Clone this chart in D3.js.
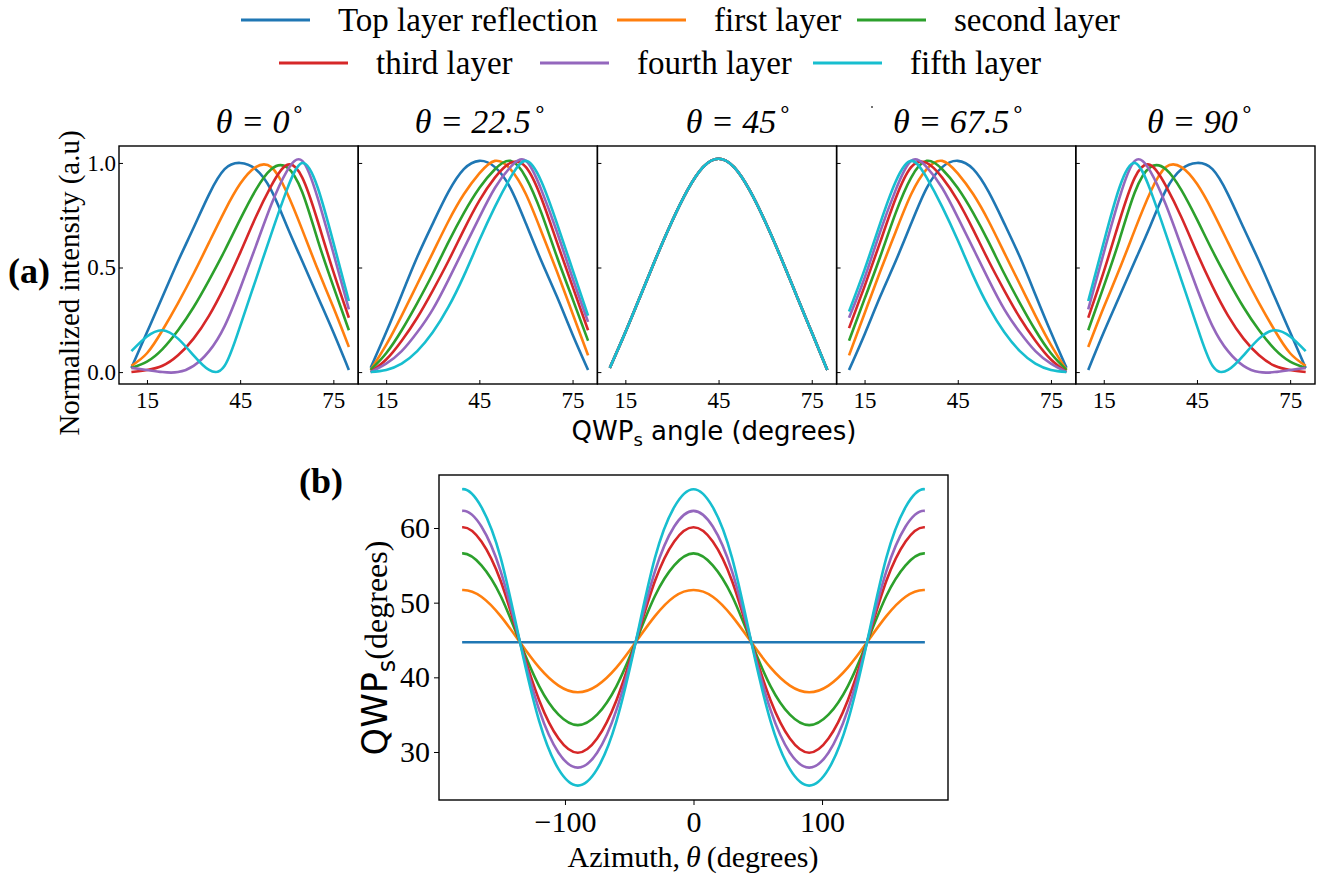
<!DOCTYPE html>
<html lang="en">
<head>
    <meta charset="UTF-8">
    <title>QWP layer intensity</title>
    <script src="https://d3js.org/d3.v7.min.js"></script>
    <style>
        body { margin: 0; background: #fff; }
        svg { display: block; }
    </style>
</head>
<body>
<svg id="fig" width="1325" height="876"></svg>
<script>
    // ---- data ----
    const layerNames = ["Top layer reflection", "first layer", "second layer", "third layer", "fourth layer", "fifth layer"];
    const layerColors = ["#1f77b4", "#ff7f0e", "#2ca02c", "#d62728", "#9467bd", "#17becf"];

    const thetaLabels = ["0", "22.5", "45", "67.5", "90"];
    const qwpAngle = [10, 15, 20, 25, 30, 35, 40, 45, 50, 55, 60, 65, 70, 75, 80];
    const qwpTicks = [15, 45, 75];
    const intensityTicks = [0.0, 0.5, 1.0];

    // normalized intensity, one row per layer (top, first ... fifth)
    const intensity0 = [
        [0.02, 0.19, 0.36, 0.53, 0.69, 0.85, 0.97, 1.00, 0.97, 0.87, 0.70, 0.53, 0.36, 0.19, 0.01],
        [0.03, 0.09, 0.20, 0.33, 0.47, 0.62, 0.77, 0.90, 0.98, 0.98, 0.86, 0.68, 0.49, 0.31, 0.12],
        [0.02, 0.05, 0.11, 0.20, 0.31, 0.44, 0.58, 0.73, 0.87, 0.97, 0.98, 0.86, 0.63, 0.41, 0.20],
        [0.00, 0.01, 0.03, 0.08, 0.16, 0.27, 0.41, 0.57, 0.74, 0.89, 0.99, 0.93, 0.72, 0.48, 0.26],
        [0.02, 0.01, 0.00, 0.00, 0.03, 0.10, 0.22, 0.40, 0.60, 0.80, 0.96, 1.01, 0.83, 0.57, 0.30],
        [0.10, 0.17, 0.20, 0.16, 0.08, 0.01, 0.03, 0.22, 0.44, 0.66, 0.87, 1.00, 0.88, 0.62, 0.34]
    ];
    const intensity22 = [
        [0.02, 0.19, 0.37, 0.55, 0.71, 0.86, 0.97, 1.01, 0.98, 0.88, 0.71, 0.53, 0.36, 0.18, 0.01],
        [0.01, 0.13, 0.27, 0.42, 0.57, 0.72, 0.85, 0.95, 1.01, 0.97, 0.85, 0.67, 0.48, 0.28, 0.08],
        [0.01, 0.09, 0.20, 0.33, 0.47, 0.62, 0.76, 0.88, 0.97, 1.01, 0.93, 0.76, 0.55, 0.35, 0.15],
        [0.00, 0.06, 0.15, 0.26, 0.39, 0.53, 0.68, 0.82, 0.93, 1.00, 0.98, 0.83, 0.62, 0.41, 0.20],
        [0.00, 0.04, 0.10, 0.19, 0.30, 0.44, 0.59, 0.74, 0.88, 0.98, 1.01, 0.87, 0.67, 0.45, 0.24],
        [0.00, 0.01, 0.04, 0.10, 0.19, 0.31, 0.46, 0.63, 0.79, 0.93, 1.01, 0.91, 0.71, 0.49, 0.27]
    ];
    const curve45 = [0.02, 0.19, 0.37, 0.55, 0.72, 0.87, 0.98, 1.02, 0.98, 0.87, 0.72, 0.55, 0.37, 0.19, 0.01];
    const intensity45 = [curve45, curve45, curve45, curve45, curve45, curve45];
    const intensity67 = [
        [0.01, 0.18, 0.36, 0.53, 0.71, 0.88, 0.98, 1.01, 0.97, 0.86, 0.71, 0.55, 0.37, 0.19, 0.02],
        [0.08, 0.28, 0.48, 0.67, 0.85, 0.97, 1.01, 0.95, 0.85, 0.72, 0.57, 0.42, 0.27, 0.13, 0.01],
        [0.15, 0.35, 0.55, 0.76, 0.93, 1.01, 0.97, 0.88, 0.76, 0.62, 0.47, 0.33, 0.20, 0.09, 0.01],
        [0.21, 0.41, 0.62, 0.83, 0.98, 1.00, 0.93, 0.82, 0.68, 0.53, 0.39, 0.26, 0.15, 0.06, 0.00],
        [0.26, 0.45, 0.67, 0.87, 1.01, 0.98, 0.88, 0.74, 0.59, 0.44, 0.30, 0.19, 0.10, 0.04, 0.00],
        [0.29, 0.49, 0.71, 0.91, 1.01, 0.93, 0.79, 0.63, 0.46, 0.31, 0.19, 0.10, 0.04, 0.01, 0.00]
    ];
    const intensity90 = [
        [0.01, 0.19, 0.36, 0.53, 0.70, 0.87, 0.97, 1.00, 0.97, 0.85, 0.69, 0.53, 0.36, 0.19, 0.02],
        [0.12, 0.31, 0.49, 0.68, 0.86, 0.98, 0.98, 0.90, 0.77, 0.62, 0.47, 0.33, 0.20, 0.09, 0.03],
        [0.20, 0.41, 0.63, 0.86, 0.98, 0.97, 0.87, 0.73, 0.58, 0.44, 0.31, 0.20, 0.11, 0.05, 0.02],
        [0.26, 0.48, 0.72, 0.93, 0.99, 0.89, 0.74, 0.57, 0.41, 0.27, 0.16, 0.08, 0.03, 0.01, 0.00],
        [0.30, 0.57, 0.83, 1.01, 0.96, 0.80, 0.60, 0.40, 0.22, 0.10, 0.03, 0.00, 0.00, 0.01, 0.02],
        [0.34, 0.62, 0.88, 1.00, 0.87, 0.66, 0.44, 0.22, 0.03, 0.01, 0.08, 0.16, 0.20, 0.17, 0.10]
    ];
    const panelsA = [intensity0, intensity22, intensity45, intensity67, intensity90];

    // (b) QWPs angle vs azimuth; the outer +-195 points only shape the flat ends and are clipped away
    const azimuth = [-195, -180, -165, -150, -135, -120, -105, -90, -75, -60, -45, -30, -15, 0,
        15, 30, 45, 60, 75, 90, 105, 120, 135, 150, 165, 180, 195];
    const azimuthTicks = [-100, 0, 100];
    const qwpsTicks = [30, 40, 50, 60];
    const qwpsTop = [44.7, 44.7, 44.7, 44.7, 44.7, 44.7, 44.7, 44.7, 44.7, 44.7, 44.7, 44.7, 44.7, 44.7,
        44.7, 44.7, 44.7, 44.7, 44.7, 44.7, 44.7, 44.7, 44.7, 44.7, 44.7, 44.7, 44.7];
    const qwpsFirst = [50.8, 51.7, 50.8, 48.2, 44.7, 41.3, 38.9, 38.0, 38.9, 41.3, 44.7, 48.2, 50.8, 51.7,
        50.8, 48.2, 44.7, 41.3, 38.9, 38.0, 38.9, 41.3, 44.7, 48.2, 50.8, 51.7, 50.8];
    const qwpsSecond = [55.0, 56.6, 55.0, 50.9, 44.7, 38.8, 35.0, 33.6, 35.0, 38.8, 44.7, 50.9, 55.0, 56.6,
        55.0, 50.9, 44.7, 38.8, 35.0, 33.6, 35.0, 38.8, 44.7, 50.9, 55.0, 56.6, 55.0];
    const qwpsThird = [58.2, 60.1, 58.2, 52.9, 44.7, 36.9, 31.8, 29.9, 31.8, 36.9, 44.7, 52.9, 58.2, 60.1,
        58.2, 52.9, 44.7, 36.9, 31.8, 29.9, 31.8, 36.9, 44.7, 52.9, 58.2, 60.1, 58.2];
    const qwpsFourth = [60.2, 62.3, 60.2, 54.2, 44.7, 35.6, 29.9, 27.9, 29.9, 35.6, 44.7, 54.2, 60.2, 62.3,
        60.2, 54.2, 44.7, 35.6, 29.9, 27.9, 29.9, 35.6, 44.7, 54.2, 60.2, 62.3, 60.2];
    const qwpsFifth = [62.8, 65.2, 62.8, 56.0, 44.7, 34.1, 27.7, 25.5, 27.7, 34.1, 44.7, 56.0, 62.8, 65.2,
        62.8, 56.0, 44.7, 34.1, 27.7, 25.5, 27.7, 34.1, 44.7, 56.0, 62.8, 65.2, 62.8];
    const qwpsLayers = [qwpsTop, qwpsFirst, qwpsSecond, qwpsThird, qwpsFourth, qwpsFifth];

    // ---- drawing ----
    const serif = "'Liberation Serif', 'Times New Roman', serif";
    const sans = "'DejaVu Sans', sans-serif";
    const svg = d3.select("#fig");

    // legend: two rows
    const legendRows = [
        {y: 20, starts: [241, 617, 857], layers: [0, 1, 2]},
        {y: 63, starts: [279, 540, 813], layers: [3, 4, 5]}
    ];
    legendRows.forEach(row => {
        row.layers.forEach((li, k) => {
            const x0 = row.starts[k];
            svg.append("line")
                .attr("x1", x0).attr("x2", x0 + 69)
                .attr("y1", row.y).attr("y2", row.y)
                .attr("stroke", layerColors[li]).attr("stroke-width", 3);
            svg.append("text")
                .attr("x", x0 + 97).attr("y", row.y + 11)
                .attr("font-family", serif).attr("font-size", 33)
                .text(layerNames[li]);
        });
    });

    // (a) five panels
    const panelLeft = 119, panelW = 239.2, panelTop = 146, panelBottom = 384;
    const titleShift = [22, 3, 22, 3, 5];
    const y = d3.scaleLinear().domain([-0.057, 1.081]).range([panelBottom, panelTop]);

    panelsA.forEach((rows, p) => {
        const x0 = panelLeft + p * panelW;
        const x = d3.scaleLinear().domain([6, 83]).range([x0, x0 + panelW]);
        const g = svg.append("g");

        const line = d3.line()
            .x((d, i) => x(qwpAngle[i]))
            .y(d => y(d))
            .curve(d3.curveNatural);

        g.selectAll("path.curve")
            .data(rows)
            .join("path")
            .attr("class", "curve")
            .attr("d", line)
            .attr("fill", "none")
            .attr("stroke", (d, i) => layerColors[i])
            .attr("stroke-width", 2.6);

        const xAxis = g.append("g")
            .attr("transform", `translate(0,${panelBottom})`)
            .call(d3.axisBottom(x).tickValues(qwpTicks).tickSizeInner(-4).tickSizeOuter(0).tickPadding(8));
        xAxis.select(".domain").remove();
        xAxis.attr("font-family", serif).attr("font-size", 23);

        const yAxis = g.append("g")
            .attr("transform", `translate(${x0},0)`)
            .call(d3.axisLeft(y).tickValues(intensityTicks).tickFormat(d3.format(".1f"))
                .tickSizeInner(-4).tickSizeOuter(0).tickPadding(3));
        yAxis.select(".domain").remove();
        yAxis.attr("font-family", serif).attr("font-size", 23);
        if (p > 0) yAxis.selectAll("text").remove();

        g.append("rect")
            .attr("x", x0).attr("y", panelTop)
            .attr("width", panelW).attr("height", panelBottom - panelTop)
            .attr("fill", "none").attr("stroke", "#000").attr("stroke-width", 1.4);

        const title = g.append("text")
            .attr("x", x0 + panelW / 2 + titleShift[p]).attr("y", 133)
            .attr("text-anchor", "middle")
            .attr("font-family", serif).attr("font-size", 34).attr("font-style", "italic");
        title.append("tspan").text("θ = " + thetaLabels[p]);
        title.append("tspan").attr("font-style", "normal").attr("font-size", 22).attr("dx", 2).attr("dy", -17).text("∘");
    });

    // stray dot above the 67.5 title, as in the source figure
    svg.append("circle").attr("cx", 872).attr("cy", 107).attr("r", 1).attr("fill", "#444");

    svg.append("text")
        .attr("x", 8).attr("y", 283)
        .attr("font-family", serif).attr("font-size", 36).attr("font-weight", "bold")
        .text("(a)");

    svg.append("text")
        .attr("transform", "translate(79,283) rotate(-90)")
        .attr("text-anchor", "middle")
        .attr("font-family", serif).attr("font-size", 29)
        .text("Normalized intensity (a.u)");

    const xlabA = svg.append("text")
        .attr("x", 714).attr("y", 440)
        .attr("text-anchor", "middle")
        .attr("font-family", sans).attr("font-size", 26);
    xlabA.append("tspan").text("QWP");
    xlabA.append("tspan").attr("font-size", 18).attr("dy", 6).text("s");
    xlabA.append("tspan").attr("dy", -6).text(" angle (degrees)");

    // (b)
    const bLeft = 439, bRight = 948, bTop = 475, bBottom = 800;
    const xb = d3.scaleLinear().domain([-198, 198]).range([bLeft, bRight]);
    const yb = d3.scaleLinear().domain([23.57, 67.1]).range([bBottom, bTop]);
    const gb = svg.append("g");

    svg.append("defs").append("clipPath").attr("id", "clipB")
        .append("rect")
        .attr("x", xb(-180)).attr("y", bTop)
        .attr("width", xb(180) - xb(-180)).attr("height", bBottom - bTop);

    const lineB = d3.line()
        .x((d, i) => xb(azimuth[i]))
        .y(d => yb(d))
        .curve(d3.curveNatural);

    gb.append("g").attr("clip-path", "url(#clipB)")
        .selectAll("path.curve")
        .data(qwpsLayers)
        .join("path")
        .attr("class", "curve")
        .attr("d", lineB)
        .attr("fill", "none")
        .attr("stroke", (d, i) => layerColors[i])
        .attr("stroke-width", 2.6);

    const xAxisB = gb.append("g")
        .attr("transform", `translate(0,${bBottom})`)
        .call(d3.axisBottom(xb).tickValues(azimuthTicks).tickSizeInner(5).tickSizeOuter(0).tickPadding(6));
    xAxisB.select(".domain").remove();
    xAxisB.attr("font-family", serif).attr("font-size", 30);

    const yAxisB = gb.append("g")
        .attr("transform", `translate(${bLeft},0)`)
        .call(d3.axisLeft(yb).tickValues(qwpsTicks).tickSizeInner(5).tickSizeOuter(0).tickPadding(4));
    yAxisB.select(".domain").remove();
    yAxisB.attr("font-family", serif).attr("font-size", 30);

    gb.append("rect")
        .attr("x", bLeft).attr("y", bTop)
        .attr("width", bRight - bLeft).attr("height", bBottom - bTop)
        .attr("fill", "none").attr("stroke", "#000").attr("stroke-width", 1.4);

    svg.append("text")
        .attr("x", 299).attr("y", 493)
        .attr("font-family", serif).attr("font-size", 36).attr("font-weight", "bold")
        .text("(b)");

    const xlabB = svg.append("text")
        .attr("x", 693).attr("y", 867)
        .attr("text-anchor", "middle")
        .attr("font-family", serif).attr("font-size", 30);
    xlabB.append("tspan").text("Azimuth,\u2009");
    xlabB.append("tspan").attr("font-style", "italic").text("θ");
    xlabB.append("tspan").text("\u2009(degrees)");

    const ylabB = svg.append("text")
        .attr("transform", "translate(387,648) rotate(-90)")
        .attr("text-anchor", "middle");
    ylabB.append("tspan").attr("font-family", sans).attr("font-size", 35).text("QWP");
    ylabB.append("tspan").attr("font-family", sans).attr("font-size", 24).attr("dy", 8).text("s");
    ylabB.append("tspan").attr("font-family", serif).attr("font-size", 32).attr("dy", -8).text("(degrees)");
</script>
</body>
</html>
